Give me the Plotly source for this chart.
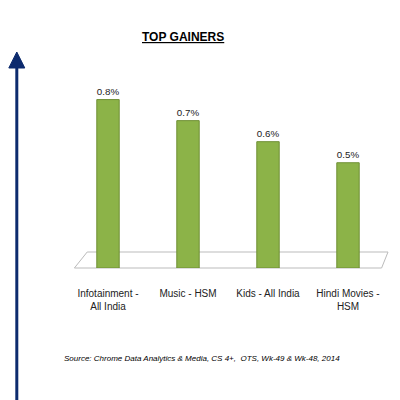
import plotly.graph_objects as go

categories = ["Infotainment -<br>All India", "Music - HSM", "Kids - All India", "Hindi Movies -<br>HSM"]
values = [0.8, 0.7, 0.6, 0.5]
labels = ["0.8%", "0.7%", "0.6%", "0.5%"]

fig = go.Figure()
fig.add_trace(go.Bar(x=categories, y=values, width=0.28,
                     marker=dict(color="#8cb348", line=dict(color="#6e8f34", width=1)),
                     text=labels, textposition="outside",
                     textfont=dict(family="Liberation Sans", size=10, color="#222"),
                     cliponaxis=False))
fig.update_layout(
    width=400, height=400, paper_bgcolor="white", plot_bgcolor="white",
    margin=dict(l=60, r=20, t=60, b=140), showlegend=False,
    xaxis=dict(showgrid=False, showline=False, ticks="", ticklabelstandoff=18,
               tickfont=dict(family="Liberation Sans", size=10, color="#222")),
    yaxis=dict(range=[0, 0.95], visible=False),
    shapes=[
        dict(type="path", xref="paper", yref="paper",
             path="M 0.02 0 L 0.98 0 L 1.0 0.08 L 0.06 0.08 Z",
             fillcolor="white", line=dict(color="#bbbbbb", width=1), layer="below"),
        dict(type="line", xref="paper", yref="paper", x0=-0.16, x1=-0.16, y0=-0.7, y1=1.0,
             line=dict(color="#0d2b6e", width=3)),
        dict(type="path", xref="paper", yref="paper",
             path="M -0.185 1.0 L -0.135 1.0 L -0.16 1.08 Z",
             fillcolor="#0d2b6e", line=dict(color="#0d2b6e", width=1)),
    ],
    annotations=[
        dict(text="<b><u>TOP GAINERS</u></b>", xref="paper", yref="paper", x=0.36, y=1.2,
             showarrow=False, font=dict(family="Liberation Sans", size=12, color="black")),
        dict(text="<i>Source: Chrome Data Analytics & Media, CS 4+,  OTS, Wk-49 & Wk-48, 2014</i>",
             xref="paper", yref="paper", x=0.42, y=-0.485, showarrow=False,
             font=dict(family="Liberation Sans", size=8, color="black")),
    ],
)
fig.write_html("out.html")
